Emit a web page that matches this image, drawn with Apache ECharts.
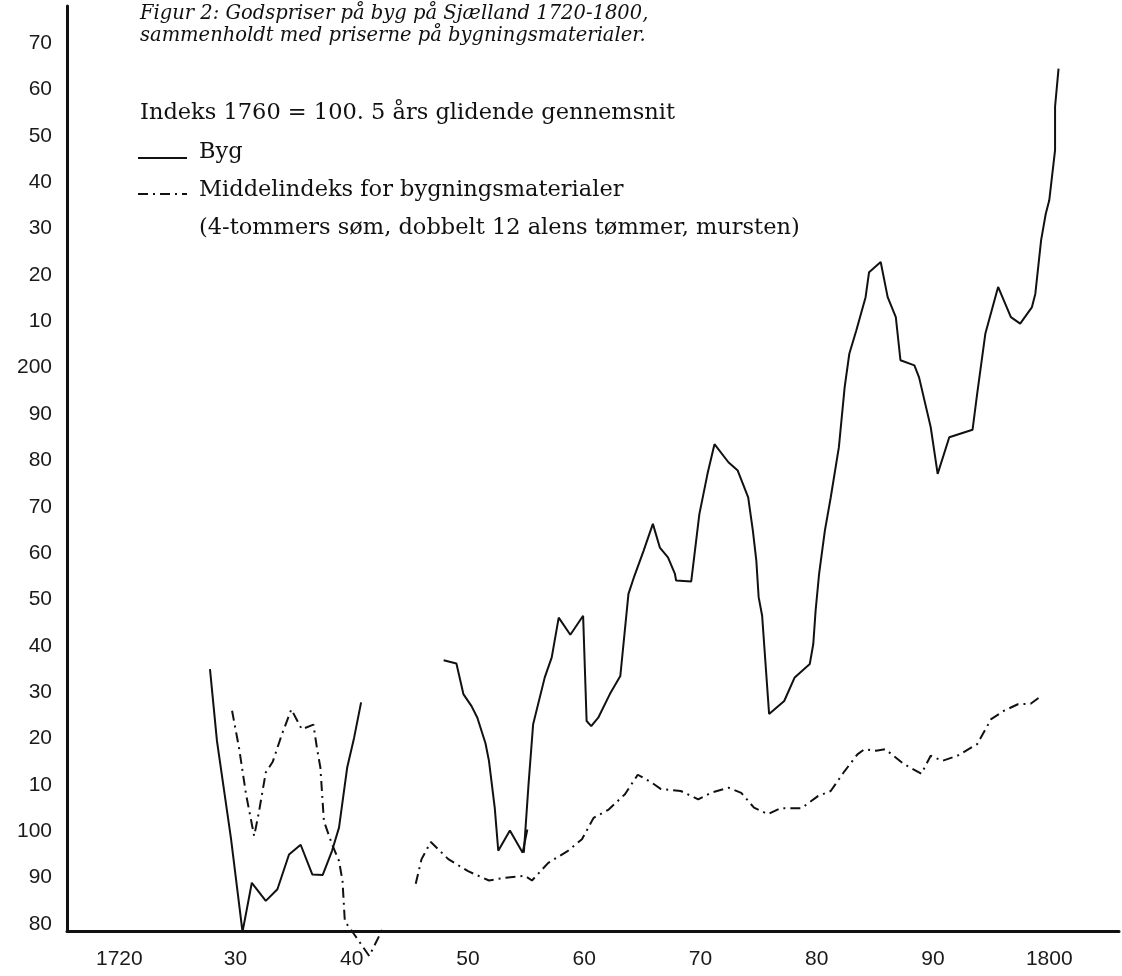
<!DOCTYPE html>
<html>
<head>
<meta charset="utf-8">
<script src="https://cdn.jsdelivr.net/npm/echarts@6/dist/echarts.min.js"></script>
<style>
html,body{margin:0;padding:0;background:#fff;}
#chart{width:1122px;height:976px;}
</style>
</head>
<body>
<div id="chart"></div>
<script>
// Byg (5-year moving average, index 1760 = 100), three drawn segments
const bygSeg1 = [[1727.8,135.0],[1728.4,119.5],[1729.6,98.6],[1730.6,78.3],[1731.4,88.9],[1732.6,85.0],[1733.6,87.5],[1734.6,95.0],[1735.6,97.1],[1736.6,90.7],[1737.5,90.6],[1738.3,95.8],[1738.9,100.8],[1739.6,113.7],[1740.2,120.2],[1740.8,127.8]];
const bygSeg2 = [[1747.9,136.9],[1749.0,136.2],[1749.6,129.6],[1750.3,127.0],[1750.8,124.5],[1751.5,119.0],[1751.8,115.2],[1752.3,105.0],[1752.6,95.8],[1753.6,100.2],[1754.7,95.4],[1755.1,100.4]];
const bygSeg3 = [[1754.8,95.4],[1755.2,110.0],[1755.6,123.1],[1756.6,133.2],[1757.2,137.5],[1757.8,146.1],[1758.8,142.4],[1759.9,146.5],[1760.2,123.8],[1760.6,122.7],[1761.2,124.5],[1762.2,129.6],[1763.1,133.5],[1763.8,151.2],[1764.3,155.0],[1765.1,160.5],[1765.9,166.3],[1766.5,161.2],[1767.2,159.1],[1767.8,155.5],[1767.9,154.1],[1769.2,153.9],[1769.9,168.4],[1770.6,177.1],[1771.2,183.5],[1772.4,179.6],[1773.2,177.8],[1774.1,172.0],[1774.5,164.9],[1774.8,158.4],[1775.0,150.5],[1775.3,146.5],[1775.9,125.3],[1777.2,128.1],[1778.1,133.2],[1779.4,136.1],[1779.7,140.4],[1779.9,147.6],[1780.2,155.5],[1780.7,164.9],[1781.2,172.0],[1781.9,182.8],[1782.4,195.8],[1782.8,203.0],[1783.4,208.0],[1784.2,215.2],[1784.5,220.6],[1785.5,222.8],[1786.1,215.2],[1786.8,210.9],[1787.2,201.6],[1788.4,200.5],[1788.8,197.9],[1789.8,187.2],[1790.4,177.1],[1791.4,185.0],[1793.4,186.6],[1793.8,194.4],[1794.5,207.3],[1795.6,217.4],[1796.7,210.9],[1797.5,209.5],[1798.5,213.0],[1798.8,215.9],[1799.3,227.5],[1799.7,233.2],[1800.0,236.1],[1800.5,246.9],[1800.5,256.3],[1800.8,264.5]];
// Middelindeks for bygningsmaterialer, two drawn segments
const matSeg1 = [[1729.7,126.0],[1730.3,118.0],[1730.9,108.0],[1731.6,99.0],[1732.0,104.0],[1732.6,112.7],[1733.2,115.0],[1734.0,121.0],[1734.8,126.3],[1735.7,122.0],[1736.7,123.0],[1737.0,118.0],[1737.3,113.7],[1737.6,102.2],[1738.3,97.2],[1738.9,93.6],[1739.2,89.3],[1739.4,80.6],[1740.2,77.8],[1741.5,73.1],[1742.7,79.2]];
const matSeg2 = [[1745.5,88.7],[1746.0,94.0],[1746.8,97.7],[1748.3,94.0],[1750.0,91.4],[1751.8,89.4],[1753.2,90.0],[1754.9,90.4],[1755.5,89.4],[1756.9,93.2],[1758.6,95.8],[1759.8,98.3],[1760.8,102.9],[1762.1,104.7],[1763.5,108.0],[1764.6,112.2],[1765.8,110.5],[1766.6,109.1],[1768.3,108.7],[1769.8,106.9],[1770.9,108.3],[1772.4,109.4],[1773.5,108.3],[1774.6,105.1],[1775.8,103.7],[1776.9,105.0],[1778.7,105.0],[1780.1,107.6],[1781.2,108.7],[1782.4,113.0],[1783.5,116.6],[1784.1,117.7],[1785.1,117.4],[1785.9,117.7],[1787.5,114.5],[1789.0,112.4],[1789.8,116.3],[1790.8,115.2],[1792.1,116.3],[1793.8,118.8],[1795.0,124.2],[1796.1,126.0],[1797.3,127.4],[1798.4,127.5],[1799.2,129.0]];

const titleLines = ['Figur 2: Godspriser på byg på Sjælland 1720-1800,', 'sammenholdt med priserne på bygningsmaterialer.'];
const noteText = 'Indeks 1760 = 100. 5 års glidende gennemsnit';
const legendByg = 'Byg';
const legendMat = 'Middelindeks for bygningsmaterialer';
const legendMat2 = '(4-tommers søm, dobbelt 12 alens tømmer, mursten)';

const chart = echarts.init(document.getElementById('chart'), null, {renderer: 'canvas'});

function xLabel(v) {
  const r = Math.round(v);
  if (Math.abs(v - r) > 1e-6 || r % 10 !== 0) return '';
  if (r === 1720 || r === 1800) return String(r);
  return String(r % 100);
}
function yLabel(v) {
  const r = Math.round(v);
  if (Math.abs(v - r) > 1e-6 || r % 10 !== 0) return '';
  if (r % 100 === 0) return String(r);
  return String(r % 100);
}

const serif = '"DejaVu Serif", "Liberation Serif", serif';
const lineStyleSolid = {color: '#111', width: 2};
const lineStyleDash = {color: '#111', width: 2, type: [10, 5, 2, 5]};

function lineSeries(name, data, ls) {
  return {
    name: name, type: 'line', data: data, showSymbol: false, symbol: 'none',
    smooth: false, clip: false, lineStyle: ls, silent: true, animation: false
  };
}

const option = {
  backgroundColor: '#fff',
  animation: false,
  grid: {left: 67, right: 0, top: 6, bottom: 45},
  xAxis: {
    type: 'value', min: 1715.5, max: 1806, interval: 0.5,
    axisLine: {show: true, lineStyle: {color: '#111', width: 3}},
    axisTick: {show: false},
    splitLine: {show: false},
    axisLabel: {formatter: xLabel, color: '#1a1a1a', fontSize: 21, fontFamily: '"Liberation Sans", Arial, sans-serif', margin: 18}
  },
  yAxis: {
    type: 'value', min: 78.5, max: 278, interval: 0.5,
    axisLine: {show: true, lineStyle: {color: '#111', width: 3}},
    axisTick: {show: false},
    splitLine: {show: false},
    axisLabel: {formatter: yLabel, color: '#1a1a1a', fontSize: 21, fontFamily: '"Liberation Sans", Arial, sans-serif', margin: 15, verticalAlign: 'middle'}
  },
  series: [
    lineSeries('Byg', bygSeg1, lineStyleSolid),
    lineSeries('Byg', bygSeg2, lineStyleSolid),
    lineSeries('Byg', bygSeg3, lineStyleSolid),
    lineSeries('Middelindeks', matSeg1, lineStyleDash),
    lineSeries('Middelindeks', matSeg2, lineStyleDash)
  ],
  graphic: [
    {type: 'text', left: 140, top: 4, style: {text: titleLines[0], font: 'italic 19.5px ' + serif, fill: '#111'}},
    {type: 'text', left: 140, top: 26, style: {text: titleLines[1], font: 'italic 19.5px ' + serif, fill: '#111'}},
    {type: 'text', left: 140, top: 102, style: {text: noteText, font: '22.5px ' + serif, fill: '#111'}},
    {type: 'line', shape: {x1: 138, y1: 158, x2: 187, y2: 158}, style: {stroke: '#111', lineWidth: 2}},
    {type: 'text', left: 199, top: 141, style: {text: legendByg, font: '22.5px ' + serif, fill: '#111'}},
    {type: 'line', shape: {x1: 138, y1: 194, x2: 187, y2: 194}, style: {stroke: '#111', lineWidth: 2, lineDash: [10, 5, 2, 5]}},
    {type: 'text', left: 199, top: 179, style: {text: legendMat, font: '22.5px ' + serif, fill: '#111'}},
    {type: 'text', left: 199, top: 217, style: {text: legendMat2, font: '22.5px ' + serif, fill: '#111'}}
  ]
};
chart.setOption(option);
</script>
</body>
</html>
